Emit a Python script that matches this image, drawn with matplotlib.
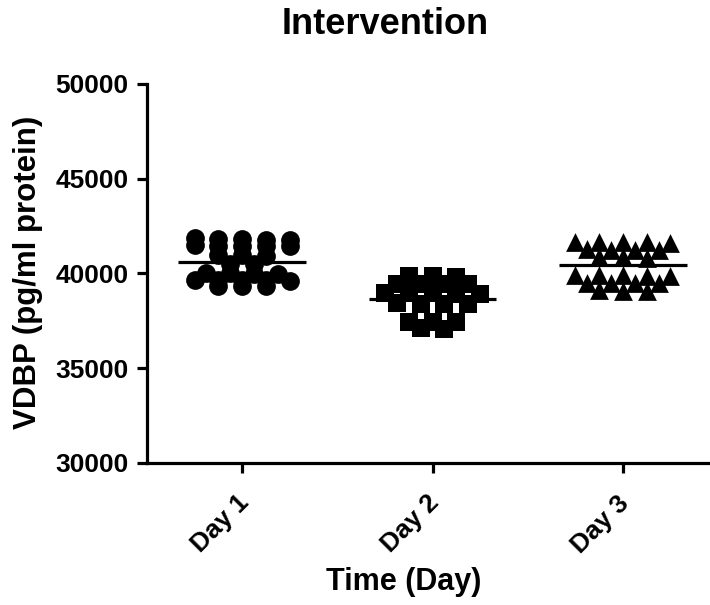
import numpy as np
import matplotlib
matplotlib.use("Agg")
import matplotlib.pyplot as plt
import matplotlib.transforms as mtransforms

plt.rcParams['font.family'] = ['Liberation Sans', 'DejaVu Sans']
plt.rcParams['font.weight'] = 'bold'

days = ["Day 1", "Day 2", "Day 3"]
markers = ["o", "s", "^"]

# VDBP readings per day (pg/ml protein)
day1 = [41820, 41790, 41850, 41780, 41810,
        41460, 41430, 41480, 41440, 41450,
        40970, 40930, 40950,
        40520, 40480,
        40020, 39980, 40010, 39990,
        39660, 39640, 39670, 39650, 39630,
        39360, 39340, 39350]
day2 = [39850, 39820, 39880,
        39460, 39430, 39450, 39470,
        38960, 38930, 38950, 38940, 38970,
        38400, 38380, 38420, 38410,
        37460, 37440, 37450,
        37110, 37090]
day3 = [41660, 41640, 41670, 41650, 41630,
        41260, 41240, 41250, 41270,
        40860, 40840, 40850,
        39910, 39890, 39900, 39920, 39880,
        39510, 39490, 39500, 39520,
        39110, 39090, 39100]
groups = [day1, day2, day3]

yticks = [30000, 35000, 40000, 45000, 50000]


def row_offsets(vals, gap=150, step=0.125):
    # stack close values into rows and spread each row sideways
    order = np.argsort(vals)[::-1]
    offs = np.zeros(len(vals))
    rows = []
    for i in order:
        if rows and vals[rows[-1][0]] - vals[i] <= gap:
            rows[-1].append(i)
        else:
            rows.append([i])
    for r in rows:
        n = len(r)
        for k, i in enumerate(r):
            offs[i] = (k - (n - 1) / 2) * step
    return offs


fig = plt.figure(figsize=(7.1, 6.05), dpi=100)
ax = fig.add_axes([147 / 710, 1 - 463 / 605, 571 / 710, 379 / 605])

for pos, (vals, m) in enumerate(zip(groups, markers), start=1):
    vals = np.array(vals, dtype=float)
    xs = pos + row_offsets(vals)
    ax.scatter(xs, vals, s=13.5 ** 2, marker=m, color='black', linewidths=0,
               clip_on=False, zorder=3)
    ax.hlines(vals.mean(), pos - 0.335, pos + 0.335, color='black', lw=2.3, zorder=4)

ax.set_xlim(0.5, 3.5)
ax.set_ylim(30000, 50000)
ax.set_yticks(yticks)
ax.set_yticklabels([str(t) for t in yticks], fontsize=19, fontweight='bold')
ax.set_xticks([1, 2, 3])

for side in ['top', 'right']:
    ax.spines[side].set_visible(False)
for side in ['left', 'bottom']:
    ax.spines[side].set_linewidth(2.3)
ax.tick_params(width=2.3, length=7)
ax.tick_params(axis='y', pad=6.5)
ax.tick_params(axis='x', pad=13)

ax.set_xticklabels(days, fontsize=19, fontweight='bold', rotation=45,
                   ha='right', rotation_mode='anchor')
# nudge the slanted day labels a little to the left
shift = mtransforms.ScaledTranslation(-4 / 72, 0, fig.dpi_scale_trans)
for lab in ax.get_xticklabels():
    lab.set_transform(lab.get_transform() + shift)

ax.set_ylabel("VDBP (pg/ml protein)", fontsize=22.5, fontweight='bold')
ax.yaxis.set_label_coords(-0.182, 0.504)
ax.set_xlabel("Time (Day)", fontsize=22, fontweight='bold')
ax.xaxis.set_label_coords(0.45, -0.274)

fig.text(385 / 710, 1 - 25 / 605, "Intervention", fontsize=26, fontweight='bold',
         ha='center', va='center')

fig.savefig("out.png", dpi=100)
